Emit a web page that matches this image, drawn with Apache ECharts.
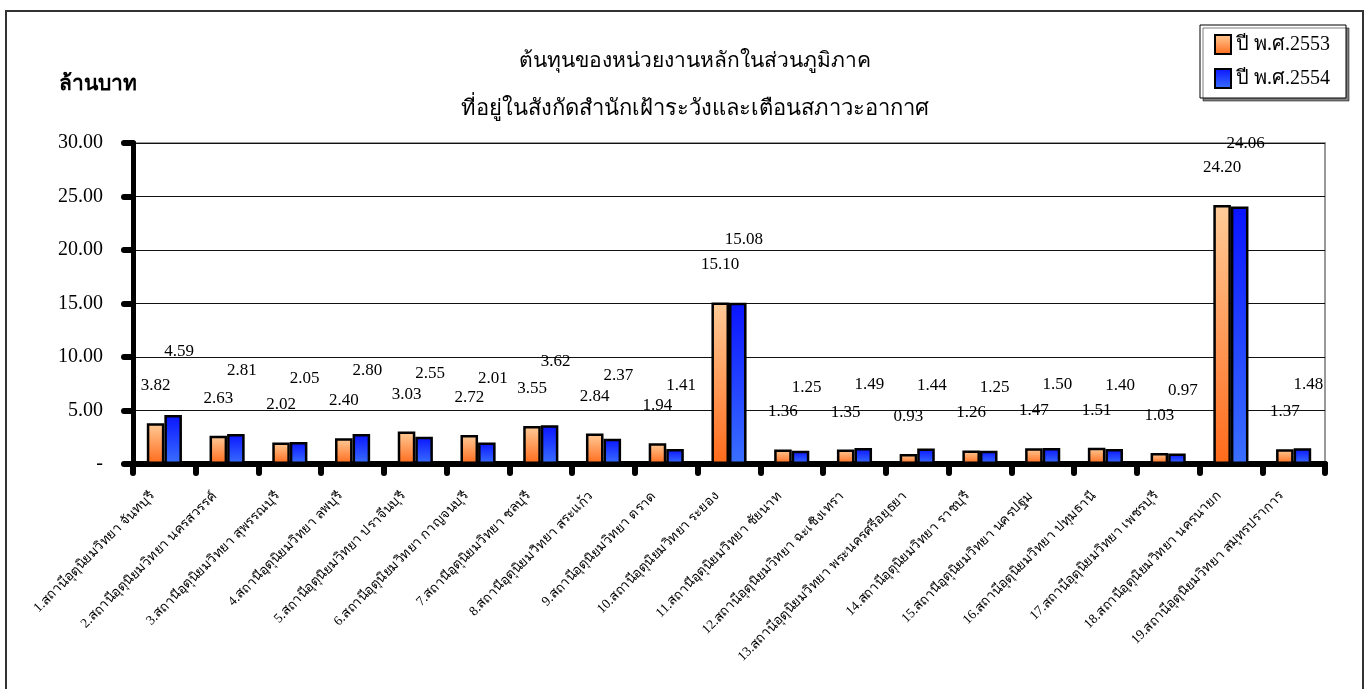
<!DOCTYPE html>
<html>
<head>
<meta charset="utf-8">
<script src="https://cdn.jsdelivr.net/npm/echarts@6/dist/echarts.min.js"></script>
<style>
html,body{margin:0;padding:0;background:#fff;}
#chart{width:1369px;height:689px;}
</style>
</head>
<body>
<div id="chart"></div>
<script>
const categories = [
  '1.สถานีอุตุนิยมวิทยา จันทบุรี',
  '2.สถานีอุตุนิยมวิทยา นครสวรรค์',
  '3.สถานีอุตุนิยมวิทยา สุพรรณบุรี',
  '4.สถานีอุตุนิยมวิทยา ลพบุรี',
  '5.สถานีอุตุนิยมวิทยา ปราจีนบุรี',
  '6.สถานีอุตุนิยมวิทยา กาญจนบุรี',
  '7.สถานีอุตุนิยมวิทยา ชลบุรี',
  '8.สถานีอุตุนิยมวิทยา สระแก้ว',
  '9.สถานีอุตุนิยมวิทยา ตราด',
  '10.สถานีอุตุนิยมวิทยา ระยอง',
  '11.สถานีอุตุนิยมวิทยา ชัยนาท',
  '12.สถานีอุตุนิยมวิทยา ฉะเชิงเทรา',
  '13.สถานีอุตุนิยมวิทยา พระนครศรีอยุธยา',
  '14.สถานีอุตุนิยมวิทยา ราชบุรี',
  '15.สถานีอุตุนิยมวิทยา นครปฐม',
  '16.สถานีอุตุนิยมวิทยา ปทุมธานี',
  '17.สถานีอุตุนิยมวิทยา เพชรบุรี',
  '18.สถานีอุตุนิยมวิทยา นครนายก',
  '19.สถานีอุตุนิยมวิทยา สมุทรปราการ'
];
const series2553 = [3.82, 2.63, 2.02, 2.40, 3.03, 2.72, 3.55, 2.84, 1.94, 15.10, 1.36, 1.35, 0.93, 1.26, 1.47, 1.51, 1.03, 24.20, 1.37];
const series2554 = [4.59, 2.81, 2.05, 2.80, 2.55, 2.01, 3.62, 2.37, 1.41, 15.08, 1.25, 1.49, 1.44, 1.25, 1.50, 1.40, 0.97, 24.06, 1.48];
const seriesNames = ['ปี พ.ศ.2553', 'ปี พ.ศ.2554'];
const titleLines = ['ต้นทุนของหน่วยงานหลักในส่วนภูมิภาค', 'ที่อยู่ในสังกัดสำนักเฝ้าระวังและเตือนสภาวะอากาศ'];
const yUnit = 'ล้านบาท';

const serif = '"Liberation Serif", "DejaVu Serif", serif';
const chart = echarts.init(document.getElementById('chart'));

const orangeGrad = new echarts.graphic.LinearGradient(0, 0, 0, 1, [
  {offset: 0, color: '#FFCC99'}, {offset: 1, color: '#FF6A1A'}
]);
const blueGrad = new echarts.graphic.LinearGradient(0, 0, 0, 1, [
  {offset: 0, color: '#0A14FF'}, {offset: 1, color: '#3A70FF'}
]);

const labelStyle = {
  show: true, position: 'top', color: '#000', fontFamily: serif, fontSize: 17,
  formatter: p => p.value.toFixed(2)
};

chart.setOption({
  animation: false,
  backgroundColor: '#fff',
  title: [
    {text: titleLines[0], left: 690, top: 46, textAlign: 'center',
     textStyle: {fontFamily: serif, fontSize: 21, fontWeight: 'normal', color: '#000'}},
    {text: titleLines[1], left: 690, top: 93, textAlign: 'center',
     textStyle: {fontFamily: serif, fontSize: 22, fontWeight: 'normal', color: '#000'}},
    {text: yUnit, left: 54, top: 69,
     textStyle: {fontFamily: serif, fontSize: 21, fontWeight: 'bold', color: '#000'}}
  ],
  legend: {
    orient: 'vertical', left: 1200, top: 25,
    data: seriesNames,
    itemWidth: 16, itemHeight: 19, itemGap: 13,
    padding: [9, 16, 9, 14],
    backgroundColor: '#fff', borderColor: '#000', borderWidth: 1,
    shadowColor: 'rgba(0,0,0,0.5)', shadowOffsetX: 3, shadowOffsetY: 3, shadowBlur: 0,
    textStyle: {fontFamily: serif, fontSize: 20, color: '#000'},
    icon: 'rect'
  },
  graphic: [
    {type: 'rect', shape: {x: 6, y: 11, width: 1357, height: 700}, silent: true,
     style: {fill: 'none', stroke: '#333', lineWidth: 2}, z: -1}
  ],
  grid: {left: 133, top: 143, right: 44, bottom: 225, show: true,
         borderColor: '#999', borderWidth: 2, backgroundColor: '#fff'},
  xAxis: {
    type: 'category', data: categories,
    axisLine: {lineStyle: {color: '#000', width: 6, cap: 'round'}},
    axisTick: {show: true, length: 9, lineStyle: {color: '#000', width: 6, cap: 'round'}},
    axisLabel: {rotate: 45, interval: 0, fontFamily: serif, fontSize: 13.5, color: '#000',
      margin: 18,
      formatter: v => '{a|' + v + '}',
      rich: {a: {fontFamily: serif, fontSize: 13.5, color: '#000', padding: [0, 17, 0, 0]}}}
  },
  yAxis: {
    type: 'value', min: 0, max: 30, interval: 5,
    axisLine: {show: true, lineStyle: {color: '#000', width: 5, cap: 'round'}},
    axisTick: {show: true, length: 9, lineStyle: {color: '#000', width: 6, cap: 'round'}},
    splitLine: {show: true, lineStyle: {color: '#111', width: 1}},
    axisLabel: {fontFamily: serif, fontSize: 20, color: '#000', margin: 30,
      formatter: v => v === 0 ? '-' : v.toFixed(2)}
  },
  series: [
    {name: seriesNames[0], type: 'bar', data: series2553, barGap: '0%', barCategoryGap: '44%',
     itemStyle: {color: orangeGrad, borderColor: '#000', borderWidth: 2.5},
     label: Object.assign({}, labelStyle, {distance: 29})},
    {name: seriesNames[1], type: 'bar', data: series2554, barGap: '0%', barCategoryGap: '44%',
     itemStyle: {color: blueGrad, borderColor: '#000', borderWidth: 2.5},
     label: Object.assign({}, labelStyle, {distance: 55, offset: [6, 0]})}
  ]
});
</script>
</body>
</html>
